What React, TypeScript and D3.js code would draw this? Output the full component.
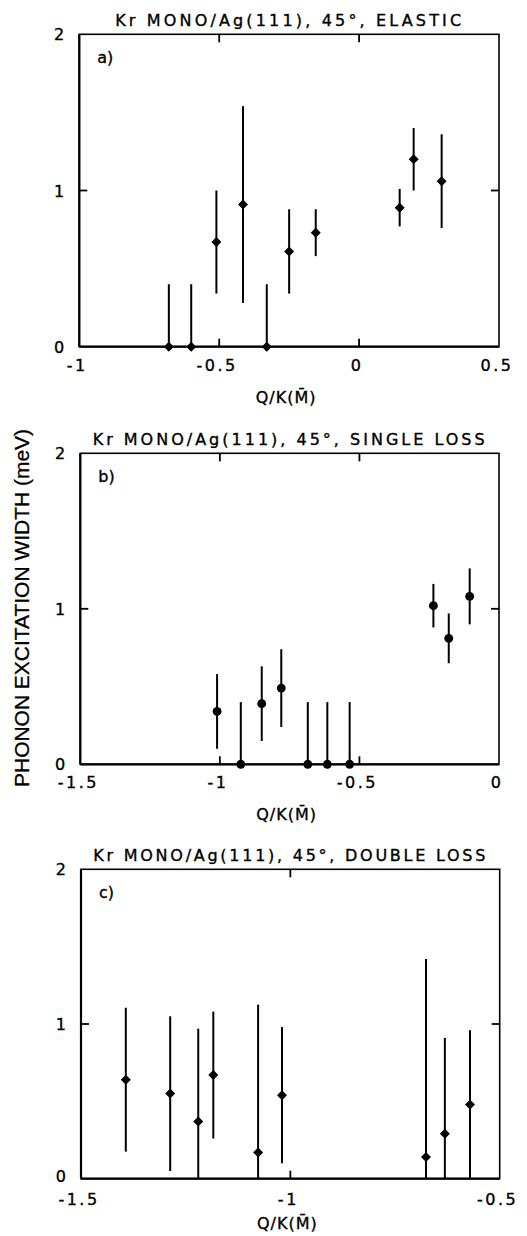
import React from "react";
import * as d3 from "d3";

// ---- Data ----
const titles = [
  "Kr MONO/Ag(111), 45°, ELASTIC",
  "Kr MONO/Ag(111), 45°, SINGLE LOSS",
  "Kr MONO/Ag(111), 45°, DOUBLE LOSS",
];
const panelTags = ["a)", "b)", "c)"];

const elasticQ = [-0.68, -0.6, -0.51, -0.415, -0.33, -0.25, -0.155, 0.145, 0.195, 0.295];
const elasticW = [0, 0, 0.67, 0.91, 0, 0.61, 0.73, 0.89, 1.2, 1.06];
const elasticErr = [0.4, 0.4, 0.33, 0.63, 0.4, 0.27, 0.15, 0.12, 0.2, 0.3];

const singleQ = [-1.01, -0.925, -0.85, -0.78, -0.685, -0.615, -0.535, -0.235, -0.18, -0.105];
const singleW = [0.34, 0, 0.39, 0.49, 0, 0, 0, 1.02, 0.81, 1.08];
const singleErr = [0.24, 0.4, 0.24, 0.25, 0.4, 0.4, 0.4, 0.14, 0.16, 0.18];

const doubleQ = [-1.393, -1.287, -1.22, -1.184, -1.077, -1.02, -0.676, -0.631, -0.571];
const doubleW = [0.64, 0.55, 0.37, 0.67, 0.17, 0.54, 0.14, 0.29, 0.48];
const doubleErr = [0.465, 0.5, 0.6, 0.41, 0.955, 0.44, 1.28, 0.62, 0.48];

const xDomains: [number, number][] = [[-1, 0.5], [-1.5, 0], [-1.5, -0.5]];
const xTickValues = [[-1, -0.5, 0, 0.5], [-1.5, -1, -0.5, 0], [-1.5, -1, -0.5]];
const xTickLabels = [["-1", "-0.5", "0", "0.5"], ["-1.5", "-1", "-0.5", "0"], ["-1.5", "-1", "-0.5"]];
const yTickValues = [0, 1, 2];
const yTickLabels = ["0", "1", "2"];
const xAxisTitle = "Q/K(M\u0304)";
const yAxisTitle = "PHONON  EXCITATION  WIDTH  (meV)";

// ---- Layout ----
const layouts = [
  { left: 79.3, right: 499, top: 34.3, bottom: 346.7, titleY: 26, tickY: 371, axisTitleY: 403, zeroDy: 6, marker: "diamond" },
  { left: 80.3, right: 499, top: 453.3, bottom: 764.3, titleY: 445, tickY: 788, axisTitleY: 820, zeroDy: 6, marker: "circle" },
  { left: 81, right: 499.7, top: 869.3, bottom: 1178.7, titleY: 861, tickY: 1205, axisTitleY: 1229, zeroDy: 3, marker: "diamond" },
];

const series = [
  { q: elasticQ, w: elasticW, e: elasticErr },
  { q: singleQ, w: singleW, e: singleErr },
  { q: doubleQ, w: doubleW, e: doubleErr },
];

const plotFont = "'DejaVu Sans', sans-serif";
const textStroke = { stroke: "#000", strokeWidth: 0.35 };

function Panel({ i }: { i: number }) {
  const L = layouts[i];
  const s = series[i];
  const x = d3.scaleLinear().domain(xDomains[i]).range([L.left, L.right]);
  const y = d3.scaleLinear().domain([0, 2]).range([L.bottom, L.top]);
  const diamond = d3.symbol().type(d3.symbolSquare).size(50)()!;
  const circle = d3.symbol().type(d3.symbolCircle).size(62)()!;
  const tickLen = 8;
  const innerX = xTickValues[i].slice(1, -1);
  const innerY = [1];
  const cx = (L.left + L.right) / 2;
  return (
    <g>
      <text x={cx - 1} y={L.titleY} textAnchor="middle" fontFamily={plotFont} fontSize={16}
        textLength={i === 0 ? 346 : 392} lengthAdjust="spacing" {...textStroke}>{titles[i]}</text>
      {/* frame */}
      <rect x={L.left} y={L.top} width={L.right - L.left} height={L.bottom - L.top}
        fill="none" stroke="#000" strokeWidth={1.6} />
      <line x1={L.left} x2={L.right} y1={L.bottom} y2={L.bottom} stroke="#000" strokeWidth={2.2} />
      <line x1={L.left} x2={L.left} y1={L.top} y2={L.bottom} stroke="#000" strokeWidth={2.2} />
      {/* ticks */}
      {innerX.map((v, k) => (
        <g key={"xt" + k}>
          <line x1={x(v)} x2={x(v)} y1={L.bottom} y2={L.bottom - tickLen} stroke="#000" strokeWidth={1.8} />
          <line x1={x(v)} x2={x(v)} y1={L.top} y2={L.top + tickLen} stroke="#000" strokeWidth={1.8} />
        </g>
      ))}
      {innerY.map((v, k) => (
        <g key={"yt" + k}>
          <line x1={L.left} x2={L.left + tickLen} y1={y(v)} y2={y(v)} stroke="#000" strokeWidth={1.8} />
          <line x1={L.right} x2={L.right - tickLen} y1={y(v)} y2={y(v)} stroke="#000" strokeWidth={1.8} />
        </g>
      ))}
      {/* tick labels */}
      {xTickValues[i].map((v, k) => (
        <text key={"xl" + k} x={x(v) - 2} y={L.tickY} textAnchor="middle" fontFamily={plotFont}
          fontSize={16} letterSpacing={2.5} {...textStroke}>{xTickLabels[i][k]}</text>
      ))}
      {yTickValues.map((v, k) => (
        <text key={"yl" + k} x={L.left - 15} y={y(v) + (v === 0 ? L.zeroDy : 6)} textAnchor="end"
          fontFamily={plotFont} fontSize={16} {...textStroke}>{yTickLabels[k]}</text>
      ))}
      <text x={L.left + 18} y={L.top + 29} fontFamily={plotFont} fontSize={16} {...textStroke}>{panelTags[i]}</text>
      <text x={cx - 3} y={L.axisTitleY} textAnchor="middle" fontFamily={plotFont} fontSize={16}
        letterSpacing={1} {...textStroke}>{xAxisTitle}</text>
      {/* error bars and markers */}
      {s.q.map((q, k) => {
        const w = s.w[k];
        const lo = Math.max(0, w - s.e[k]);
        const hi = w + s.e[k];
        return (
          <g key={"p" + k}>
            <line x1={x(q)} x2={x(q)} y1={y(lo)} y2={y(hi)} stroke="#000" strokeWidth={2} />
            <path d={L.marker === "circle" ? circle : diamond}
              transform={`translate(${x(q)},${y(w)})${L.marker === "circle" ? "" : " rotate(45)"}`}
              fill="#000" />
          </g>
        );
      })}
    </g>
  );
}

export default function App() {
  return (
    <svg width={527} height={1236} viewBox="0 0 527 1236"
      style={{ position: "absolute", left: 0, top: 0, background: "#fff" }}>
      <rect width={527} height={1236} fill="#fff" />
      {layouts.map((_, i) => <Panel key={i} i={i} />)}
      <text transform="translate(29,608) rotate(-90)" textAnchor="middle"
        fontFamily="'Liberation Sans', Arial, sans-serif" fontSize={20}
        textLength={358} lengthAdjust="spacingAndGlyphs" stroke="#000" strokeWidth={0.3}>{yAxisTitle}</text>
    </svg>
  );
}
